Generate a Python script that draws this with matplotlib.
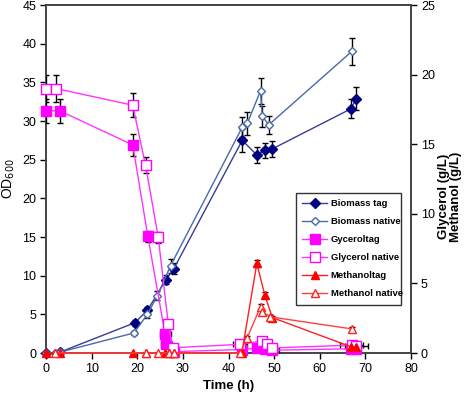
import matplotlib

matplotlib.use("Agg")
import matplotlib.pyplot as plt

plt.rcParams["font.family"] = ["Liberation Sans", "DejaVu Sans"]

# biomass (OD600, left axis)
bio_tag_t = [0, 3, 19.4, 22.2, 26.3, 28.0, 43.0, 46.2, 47.9, 49.6, 66.9, 67.9]
bio_tag = [0, 0.1, 3.9, 5.5, 9.5, 10.9, 27.5, 25.6, 26.2, 26.4, 31.6, 32.9]
bio_tag_err = [0, 0, 0.4, 0.4, 0.6, 0.7, 1.5, 1.0, 1.0, 1.0, 1.2, 1.5]

bio_nat_t = [0, 2, 3, 19.3, 22.2, 24.4, 27.3, 43.0, 44.1, 47.0, 47.4, 48.8, 67.0]
bio_nat = [0, 0, 0.1, 2.6, 5.0, 7.4, 11.3, 29.2, 29.7, 33.9, 30.6, 29.5, 39.0]
bio_nat_err = [0, 0, 0, 0.3, 0.5, 0.6, 0.9, 1.3, 1.5, 1.7, 1.4, 1.2, 1.7]

# glycerol (g/L, right axis)
gly_tag_t = [0, 3, 19.0, 22.3, 26.1, 26.3, 28.0, 43.0, 46.2, 47.9, 49.6, 66.9, 67.9]
gly_tag = [17.4, 17.4, 14.95, 8.4, 1.35, 0.65, 0.1, 0.25, 0.35, 0.3, 0.2, 0.3, 0.3]
gly_tag_err = [0.85, 0.85, 0.8, 0.4, 0.25, 0.25, 0.05, 0.1, 0.1, 0.1, 0.1, 0.1, 0.1]
gly_tag_xerr = [0, 0, 0, 0.7, 1.2, 1.2, 0, 0, 0, 0, 1.5, 0, 0]

gly_nat_t = [0, 2.2, 19.0, 21.8, 24.6, 26.8, 27.8, 42.5, 47.3, 48.4, 49.5, 67.0, 68.0]
gly_nat = [19.0, 19.0, 17.8, 13.5, 8.3, 2.05, 0.38, 0.62, 0.86, 0.62, 0.36, 0.57, 0.5]
gly_nat_err = [0.95, 0.95, 0.85, 0.6, 0.4, 0.2, 0.1, 0.1, 0.1, 0.1, 0.1, 0.1, 0.1]
gly_nat_xerr = [0, 0, 0, 0, 0, 0, 0, 1.5, 0, 0, 0, 2.5, 2.5]

# methanol (g/L, right axis)
met_tag_t = [0, 3, 19, 22, 26, 27, 28, 42.9, 46.2, 47.9, 49.6, 66.8, 67.9]
met_tag = [0, 0, 0, 0, 0, 0, 0, 0, 6.44, 4.2, 2.54, 0.45, 0.45]
met_tag_err = [0, 0, 0, 0, 0, 0, 0, 0, 0.25, 0.2, 0.15, 0.1, 0.1]

met_nat_t = [2, 22, 24.5, 27, 28, 42.5, 44.1, 47.0, 47.4, 49.1, 67.0]
met_nat = [0, 0, 0, 0, 0, 0, 1.1, 3.33, 2.97, 2.6, 1.73]
met_nat_err = [0, 0, 0, 0, 0, 0, 0.15, 0.2, 0.15, 0.15, 0.15]

fig = plt.figure(figsize=(4.72, 4.0), dpi=100)
ax = fig.add_axes([0.0975, 0.1175, 0.7735, 0.87])
ax2 = ax.twinx()

cap = dict(fmt="none", ecolor="black", elinewidth=1, capsize=2.5, capthick=1, zorder=3)

ax.errorbar(bio_tag_t, bio_tag, yerr=bio_tag_err, **cap)
ax.errorbar(bio_nat_t, bio_nat, yerr=bio_nat_err, **cap)
h1, = ax.plot(bio_tag_t, bio_tag, color="#3a3a9a", lw=1, marker="D", ms=5,
              mfc="#000080", mec="#000080", clip_on=False, zorder=4, label="Biomass tag")
h2, = ax.plot(bio_nat_t, bio_nat, color="#4a6aa8", lw=1, marker="D", ms=4.5,
              mfc="white", mec="#4a6aa8", clip_on=False, zorder=4, label="Biomass native")

ax2.errorbar(gly_tag_t, gly_tag, yerr=gly_tag_err, xerr=gly_tag_xerr, **cap)
ax2.errorbar(gly_nat_t, gly_nat, yerr=gly_nat_err, xerr=gly_nat_xerr, **cap)
ax2.errorbar(met_tag_t, met_tag, yerr=met_tag_err, **cap)
ax2.errorbar(met_nat_t, met_nat, yerr=met_nat_err, **cap)
h3, = ax2.plot(gly_tag_t, gly_tag, color="#ff33ff", lw=1, marker="s", ms=6.5,
               mfc="#ff00ff", mec="#ff00ff", clip_on=False, zorder=4, label="Gyceroltag")
h4, = ax2.plot(gly_nat_t, gly_nat, color="#ff33ff", lw=1, marker="s", ms=6.5,
               mfc="white", mec="#ff00ff", clip_on=False, zorder=4, label="Glycerol native")
h5, = ax2.plot(met_tag_t, met_tag, color="#ff2020", lw=1, marker="^", ms=6,
               mfc="#ff0000", mec="#ff0000", clip_on=False, zorder=4, label="Methanoltag")
h6, = ax2.plot(met_nat_t, met_nat, color="#ff4040", lw=1, marker="^", ms=6,
               mfc="white", mec="#ff2020", clip_on=False, zorder=4, label="Methanol native")

ax.set_xlim(0, 80)
ax.set_ylim(0, 45)
ax2.set_ylim(0, 25)
ax.set_xticks(range(0, 81, 10))
ax.set_yticks(range(0, 46, 5))
ax2.set_yticks(range(0, 26, 5))

for a in (ax, ax2):
    a.tick_params(direction="out", length=4, width=1, labelsize=9, colors="black", pad=3)
    for s in a.spines.values():
        s.set_color("#444444")
        s.set_linewidth(1.2)

ax.set_xlabel("Time (h)", fontsize=9.5, fontweight="bold", labelpad=4)
ax.set_ylabel("OD$_{600}$", fontsize=10)
ax.yaxis.set_label_coords(-0.08, 0.5)
ax2.set_ylabel("Glycerol (g/L)\nMethanol (g/L)", fontsize=9.5, fontweight="bold",
               linespacing=0.9)
ax2.yaxis.set_label_coords(1.075, 0.45)

leg = ax2.legend(handles=[h1, h2, h3, h4, h5, h6], loc="upper left",
                 bbox_to_anchor=(0.671, 0.141, 0.313, 0.333), mode="expand",
                 frameon=True, fancybox=False, edgecolor="black",
                 handlelength=2.6, handletextpad=0.4, borderpad=0.7,
                 labelspacing=0.95, prop={"weight": "bold", "size": 6.8})
leg.get_frame().set_linewidth(1)

fig.savefig("out.png", dpi=100)
